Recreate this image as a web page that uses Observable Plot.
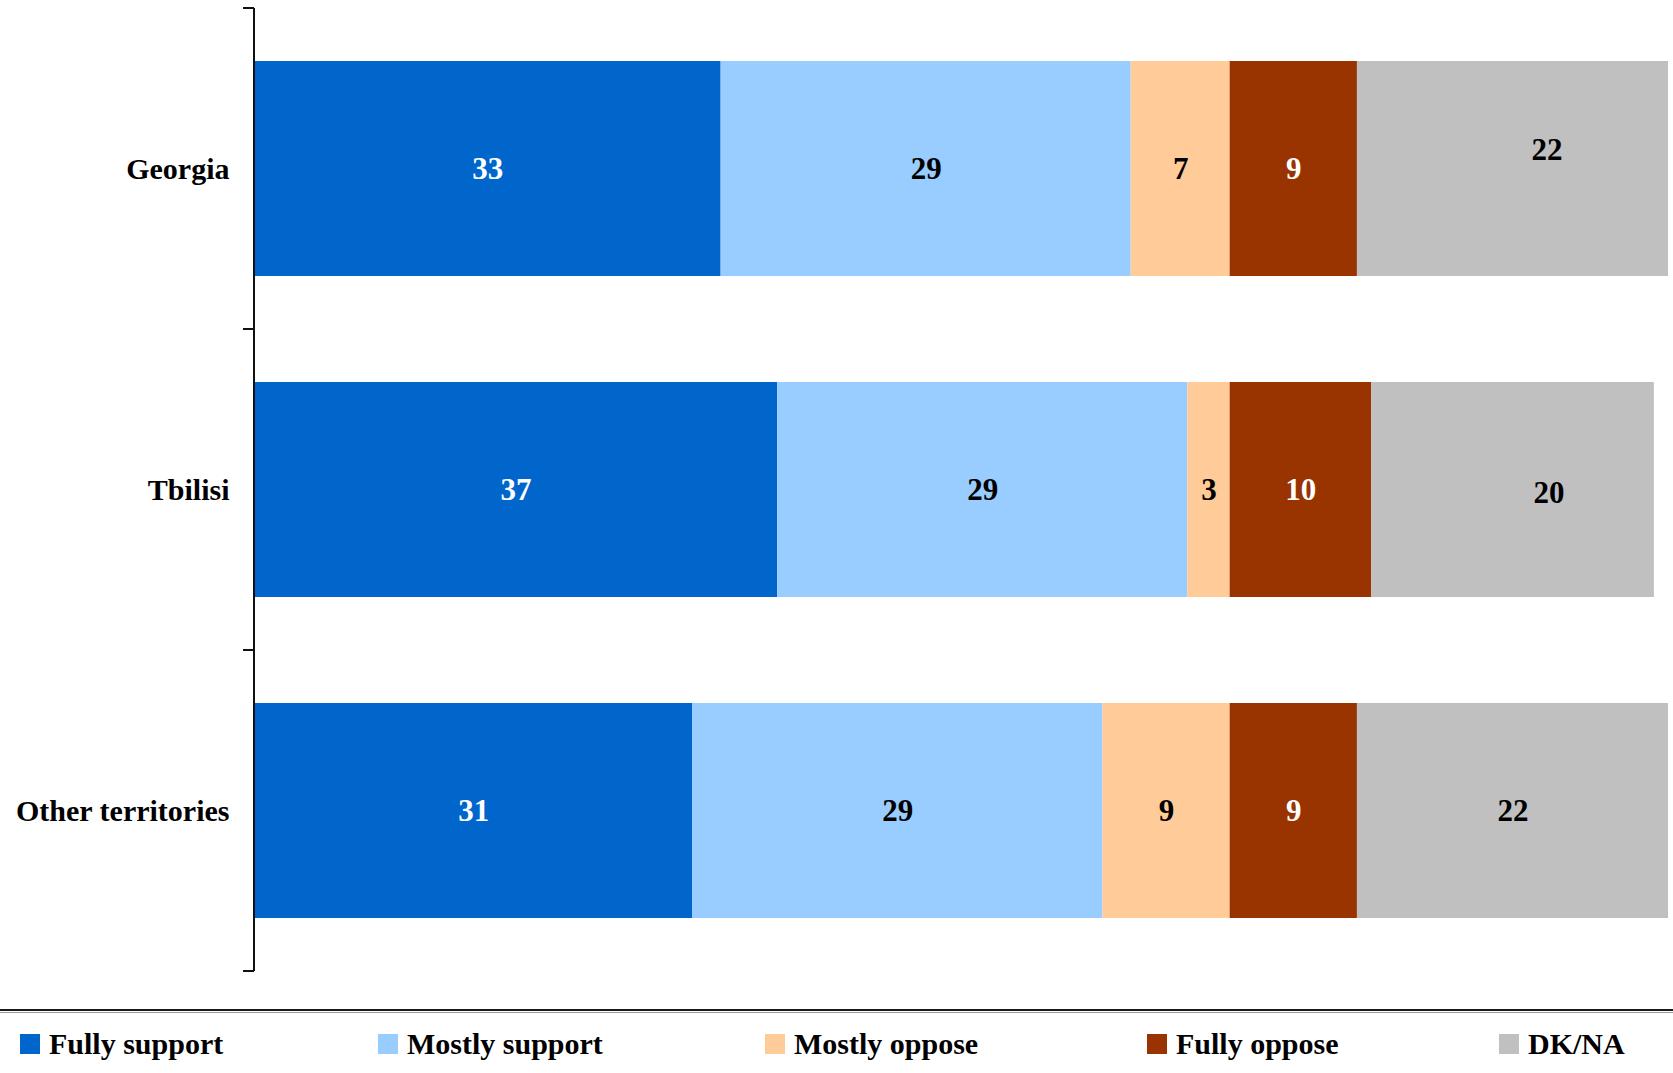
<!DOCTYPE html>
<html>
<head>
<meta charset="utf-8">
<script src="https://cdn.jsdelivr.net/npm/d3@7"></script>
<script src="https://cdn.jsdelivr.net/npm/@observablehq/plot@0.6"></script>
<style>
  html, body { margin: 0; padding: 0; background: #fff; }
  #wrap { position: relative; width: 1673px; height: 1073px; font-family: "Liberation Serif", "Times New Roman", serif; }
  #rule1 { position: absolute; left: 0; top: 1009px; width: 1673px; height: 2px; background: #1a1a1a; }
  #rule2 { position: absolute; left: 0; top: 1012px; width: 1673px; height: 1px; background: #9a9a9a; }
  .lg { position: absolute; top: 1024px; height: 40px; display: flex; align-items: center; font-weight: bold; font-size: 30px; color: #000; white-space: nowrap; }
  .sw { width: 20px; height: 20px; margin-right: 9px; }
</style>
</head>
<body>
<div id="wrap"></div>
<script>
const categories = ["Georgia", "Tbilisi", "Other territories"];
const seriesNames = ["Fully support", "Mostly support", "Mostly oppose", "Fully oppose", "DK/NA"];
const seriesColors = ["#0066CC", "#99CCFF", "#FFCC99", "#993300", "#C0C0C0"];
const whiteLabelSeries = ["Fully support", "Fully oppose"];
const fullySupport = [33, 37, 31];
const mostlySupport = [29, 29, 29];
const mostlyOppose = [7, 3, 9];
const fullyOppose = [9, 10, 9];
const dkna = [22, 20, 22];

const seriesValues = [fullySupport, mostlySupport, mostlyOppose, fullyOppose, dkna];
const rows = [];
seriesNames.forEach((s, si) => {
  categories.forEach((c, ci) => rows.push({cat: c, series: s, value: seriesValues[si][ci]}));
});

// labels that the original chart placed off-centre
const isGeoDk = d => d.cat === "Georgia" && d.series === "DK/NA";
const isTbiDk = d => d.cat === "Tbilisi" && d.series === "DK/NA";
const isOff = d => isGeoDk(d) || isTbiDk(d);

function axisMark(index, scales, values, dimensions) {
  const y = scales.y;
  const bw = y.bandwidth();
  const step = y(categories[1]) - y(categories[0]);
  const gap = (step - bw) / 2;
  const x0 = dimensions.marginLeft;
  const bounds = categories.map(c => y(c) - gap);
  bounds.push(y(categories[categories.length - 1]) + bw + gap);
  const g = d3.create("svg:g").attr("stroke", "#111").attr("stroke-width", 2).attr("fill", "none");
  g.append("line").attr("x1", x0).attr("x2", x0).attr("y1", bounds[0]).attr("y2", bounds[bounds.length - 1]);
  bounds.forEach(b => {
    g.append("line").attr("x1", x0 - 11).attr("x2", x0).attr("y1", b).attr("y2", b);
  });
  return g.node();
}

const textBase = {x: "value", y: "cat", fontSize: 31, fontWeight: "bold"};

const chart = Plot.plot({
  width: 1673,
  height: 1000,
  marginTop: 7,
  marginBottom: 28,
  marginLeft: 254,
  marginRight: 5,
  style: {fontFamily: "'Liberation Serif', 'Times New Roman', serif", background: "#fff", color: "#000"},
  x: {domain: [0, 100], axis: null},
  y: {domain: categories, paddingInner: 0.33, paddingOuter: 0.165, axis: null},
  color: {domain: seriesNames, range: seriesColors},
  marks: [
    Plot.barX(rows, Plot.stackX({x: "value", y: "cat", fill: "series", inset: 0})),
    Plot.text(rows, Plot.stackX({...textBase, fill: "white",
      text: d => (whiteLabelSeries.includes(d.series) && !isOff(d)) ? String(d.value) : ""})),
    Plot.text(rows, Plot.stackX({...textBase, fill: "black",
      text: d => (!whiteLabelSeries.includes(d.series) && !isOff(d)) ? String(d.value) : ""})),
    Plot.text(rows, Plot.stackX({...textBase, fill: "black", dx: 34, dy: -19,
      text: d => isGeoDk(d) ? String(d.value) : ""})),
    Plot.text(rows, Plot.stackX({...textBase, fill: "black", dx: 36, dy: 3,
      text: d => isTbiDk(d) ? String(d.value) : ""})),
    Plot.axisY({tickSize: 0, tickPadding: 25, fontSize: 30, fontWeight: "bold", fill: "black", label: null}),
    axisMark
  ]
});

const wrap = document.getElementById("wrap");
wrap.appendChild(chart);

const r1 = document.createElement("div"); r1.id = "rule1"; wrap.appendChild(r1);
const r2 = document.createElement("div"); r2.id = "rule2"; wrap.appendChild(r2);

const legendLeft = [20, 378, 765, 1147, 1499];
seriesNames.forEach((s, i) => {
  const item = document.createElement("div");
  item.className = "lg";
  item.style.left = legendLeft[i] + "px";
  const sw = document.createElement("div");
  sw.className = "sw";
  sw.style.background = seriesColors[i];
  item.appendChild(sw);
  const t = document.createElement("span");
  t.textContent = s;
  item.appendChild(t);
  wrap.appendChild(item);
});
</script>
</body>
</html>
